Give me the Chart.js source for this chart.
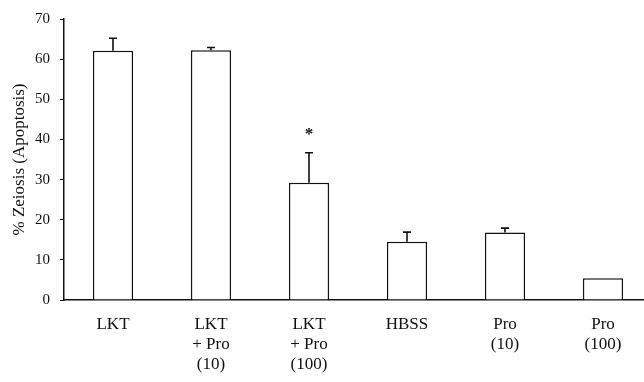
<!DOCTYPE html>
<html>
<head>
<meta charset="utf-8">
<script src="https://cdn.jsdelivr.net/npm/chart.js@4/dist/chart.umd.min.js"></script>
<style>
  html, body { margin: 0; padding: 0; background: #fff; overflow: hidden; }
  #wrap { width: 652px; height: 382px; }
</style>
</head>
<body>
<div id="wrap"><canvas id="myChart" width="652" height="382"></canvas></div>
<script>
// chart values
const categories = [
    ['LKT'],
    ['LKT', '+ Pro', '(10)'],
    ['LKT', '+ Pro', '(100)'],
    ['HBSS'],
    ['Pro', '(10)'],
    ['Pro', '(100)']
];
const zeiosis = [62.1, 62.2, 29.2, 14.5, 16.8, 5.4];
const errorUp = [3.1, 0.7, 7.5, 2.4, 1.1, 0];
const significant = [false, false, true, false, false, false];
const yTicks = [0, 10, 20, 30, 40, 50, 60, 70];

const serif = "'Liberation Serif', 'Times New Roman', serif";

// upper error bars + the asterisk, positioned through the scales
const errorBarPlugin = {
    id: 'errorBars',
    afterDatasetsDraw(chart) {
        const ctx = chart.ctx;
        const x = chart.scales.x;
        const y = chart.scales.y;
        ctx.save();
        ctx.strokeStyle = '#111';
        ctx.lineWidth = 1.6;
        zeiosis.forEach((v, i) => {
            const cx = x.getPixelForValue(i);
            const top = v + errorUp[i];
            if (errorUp[i] > 0) {
                ctx.beginPath();
                ctx.moveTo(cx, y.getPixelForValue(v));
                ctx.lineTo(cx, y.getPixelForValue(top));
                ctx.moveTo(cx - 4, y.getPixelForValue(top));
                ctx.lineTo(cx + 4, y.getPixelForValue(top));
                ctx.stroke();
            }
            if (significant[i]) {
                ctx.fillStyle = '#111';
                ctx.font = 'bold 17px ' + serif;
                ctx.textAlign = 'center';
                ctx.textBaseline = 'middle';
                ctx.fillText('*', cx, y.getPixelForValue(top + 4.2) - 1);
            }
        });
        ctx.restore();
    }
};

const ctx = document.getElementById('myChart').getContext('2d');
const myChart = new Chart(ctx, {
    type: 'bar',
    data: {
        labels: categories,
        datasets: [{
            data: zeiosis,
            backgroundColor: '#fff',
            borderColor: '#111',
            borderWidth: 1.5,
            borderSkipped: 'bottom',
            categoryPercentage: 1,
            barPercentage: 0.41
        }]
    },
    options: {
        responsive: false,
        animation: false,
        layout: { padding: { top: 13, left: 0, right: 0, bottom: 0 } },
        plugins: {
            legend: { display: false },
            tooltip: { enabled: false }
        },
        scales: {
            x: {
                grid: { display: false, drawTicks: false },
                border: { display: true, color: '#111', width: 1.5 },
                ticks: {
                    color: '#111',
                    padding: 14,
                    maxRotation: 0,
                    autoSkip: false,
                    font: { family: serif, size: 17, lineHeight: 1.2 }
                },
                afterFit(scale) { scale.height = 82; }
            },
            y: {
                min: 0,
                max: 70,
                afterBuildTicks(scale) { scale.ticks = yTicks.map(v => ({ value: v })); },
                grid: {
                    display: true,
                    drawOnChartArea: false,
                    drawTicks: true,
                    tickLength: 4,
                    color: '#111',
                    lineWidth: 1
                },
                border: { display: true, color: '#111', width: 1.5 },
                ticks: {
                    color: '#111',
                    padding: 10,
                    font: { family: serif, size: 15 }
                },
                title: {
                    display: true,
                    text: '% Zeiosis (Apoptosis)',
                    color: '#111',
                    padding: { top: 9, bottom: 0 },
                    font: { family: serif, size: 17 }
                },
                afterFit(scale) { scale.width = 64; }
            }
        }
    },
    plugins: [errorBarPlugin]
});
</script>
</body>
</html>
